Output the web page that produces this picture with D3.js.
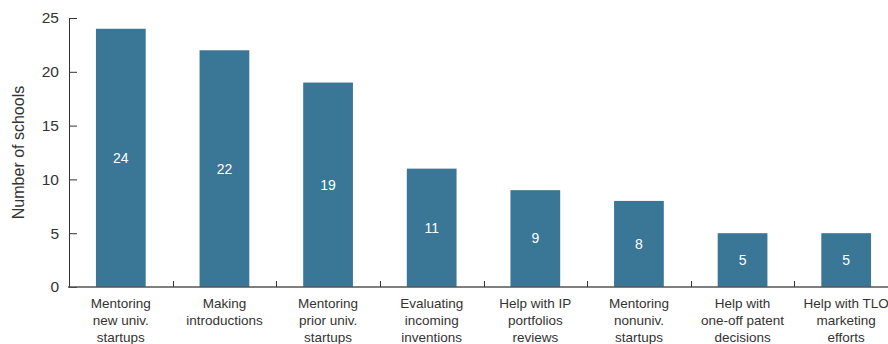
<html>
<head>
  <script src="https://d3js.org/d3.v7.min.js"></script>
  <style>
  body { margin: 0; background: #fff; }
  text { font-family: "Liberation Sans", Arial, sans-serif; fill: #333; }
  .axis path, .axis line { stroke: #333; }
  </style>
</head>
<body>
  <svg id="bars" width="888" height="344"></svg>
  <script>

var categories = [
  ["Mentoring", "new univ.", "startups"],
  ["Making", "introductions"],
  ["Mentoring", "prior univ.", "startups"],
  ["Evaluating", "incoming", "inventions"],
  ["Help with IP", "portfolios", "reviews"],
  ["Mentoring", "nonuniv.", "startups"],
  ["Help with", "one-off patent", "decisions"],
  ["Help with TLO", "marketing", "efforts"]
];
var schools = [24, 22, 19, 11, 9, 8, 5, 5];
var yTicks = [0, 5, 10, 15, 20, 25];

var svg = d3.select("#bars");
var plotLeft = 69, plotRight = 898, plotTop = 18, plotBottom = 287;

var x = d3.scaleBand()
  .domain(d3.range(schools.length))
  .range([plotLeft, plotRight])
  .paddingInner(0.52)
  .paddingOuter(0.26);

var y = d3.scaleLinear()
  .domain([0, 25])
  .range([plotBottom, plotTop]);

// bars
svg.append("g")
  .selectAll("rect")
  .data(schools)
  .enter().append("rect")
    .attr("x", function(d, i) { return x(i); })
    .attr("y", function(d) { return y(d); })
    .attr("width", x.bandwidth())
    .attr("height", function(d) { return y(0) - y(d); })
    .attr("fill", "#3a7696");

// value labels inside bars
svg.append("g")
  .selectAll("text")
  .data(schools)
  .enter().append("text")
    .attr("x", function(d, i) { return x(i) + x.bandwidth() / 2; })
    .attr("y", function(d) { return (y(d) + y(0)) / 2; })
    .attr("dy", "0.35em")
    .attr("text-anchor", "middle")
    .style("fill", "#fff")
    .style("font-size", "14px")
    .text(function(d) { return d; });

// y axis, ticks pointing inward
var yAxis = svg.append("g")
  .attr("class", "axis")
  .attr("transform", "translate(" + plotLeft + ",0)")
  .call(d3.axisRight(y).tickValues(yTicks).tickSize(8).tickSizeOuter(0));
yAxis.select(".domain").attr("d", "M0.5," + y(25) + "V" + y(0));
yAxis.selectAll("text")
  .attr("x", -10)
  .attr("text-anchor", "end")
  .style("font-size", "15.5px");

// x axis: grey line with short separators between categories
var step = x.step();
var seps = d3.range(schools.length + 1).map(function(i) { return plotLeft + i * step; });
var xAxis = svg.append("g").attr("class", "axis");
xAxis.append("line")
  .attr("x1", plotLeft - 1).attr("x2", plotRight)
  .attr("y1", plotBottom).attr("y2", plotBottom)
  .style("stroke", "#555")
  .style("stroke-width", 1.5);
xAxis.selectAll(".sep")
  .data(seps.slice(1))
  .enter().append("line")
    .attr("class", "sep")
    .attr("x1", function(d) { return Math.round(d) + 0.5; })
    .attr("x2", function(d) { return Math.round(d) + 0.5; })
    .attr("y1", plotBottom - 6).attr("y2", plotBottom)
    .style("stroke", "#333");

// category labels
var labels = svg.append("g")
  .selectAll("text")
  .data(categories)
  .enter().append("text")
    .attr("x", function(d, i) { return x(i) + x.bandwidth() / 2; })
    .attr("y", 308)
    .attr("text-anchor", "middle")
    .style("font-size", "13.5px");
labels.selectAll("tspan")
  .data(function(d) { return d; })
  .enter().append("tspan")
    .attr("x", function() { return d3.select(this.parentNode).attr("x"); })
    .attr("dy", function(d, j) { return j === 0 ? 0 : 17; })
    .text(function(d) { return d; });

// y title
svg.append("text")
  .attr("transform", "translate(24," + (plotTop + plotBottom) / 2 + ") rotate(-90)")
  .attr("text-anchor", "middle")
  .style("font-size", "16px")
  .text("Number of schools");

  </script>
</body>
</html>
